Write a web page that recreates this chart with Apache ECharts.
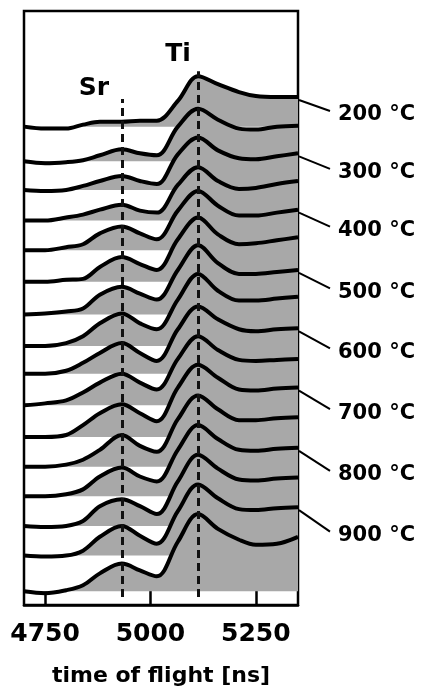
<!DOCTYPE html>
<html><head><meta charset="utf-8">
<script src="https://cdn.jsdelivr.net/npm/echarts@6/dist/echarts.min.js"></script>
<style>html,body{margin:0;padding:0;background:#fff}#c{width:423px;height:692px}</style>
</head><body><div id="c"></div>
<script>
// time-of-flight sample points [ns]
const times = [4700, 4750, 4800, 4840, 4880, 4932, 4975, 5015, 5065, 5113, 5160, 5210, 5250, 5300, 5350];
// vertical offset of each stacked spectrum (arbitrary units)
const traceOffsets = [484, 449, 420, 389, 359, 327, 294, 262, 234, 202, 170, 140, 110, 80, 50, 14];
// intensities (arbitrary units, relative to each trace's offset)
const trace01 = [0, -2, -2, 2, 5, 5, 6, 6, 26, 51, 43, 35, 31, 30, 30];
const trace02 = [0, -2, -1, 1, 6, 12, 8, 6, 35, 53, 42, 33, 32, 35, 36];
const trace03 = [0, -1, 0, 4, 9, 14, 9, 6, 36, 53, 40, 32, 31, 34, 37];
const trace04 = [0, 0, 3, 6, 11, 16, 10, 8, 36, 54, 40, 32, 33, 37, 40];
const trace05 = [0, 0, 3, 6, 17, 24, 17, 11, 40, 60, 45, 35, 35, 38, 41];
const trace06 = [0, 0, 2, 3, 15, 25, 18, 12, 43, 65, 48, 38, 39, 42, 45];
const trace07 = [0, 1, 3, 6, 20, 28, 21, 15, 45, 70, 52, 41, 41, 43, 45];
const trace08 = [0, 0, 3, 10, 23, 33, 23, 17, 47, 73, 56, 46, 46, 48, 50];
const trace09 = [0, 0, 3, 11, 21, 31, 21, 13, 45, 68, 55, 45, 43, 45, 46];
const trace10 = [0, 2, 5, 13, 23, 32, 23, 16, 47, 70, 56, 46, 45, 46, 47];
const trace11 = [0, 0, 2, 12, 24, 33, 24, 16, 50, 73, 60, 48, 47, 49, 50];
const trace12 = [0, 0, 2, 7, 17, 32, 21, 15, 48, 72, 58, 47, 47, 49, 50];
const trace13 = [0, 0, 2, 7, 20, 29, 20, 15, 47, 72, 58, 47, 46, 48, 49];
const trace14 = [0, -1, 0, 5, 20, 27, 20, 12, 45, 72, 58, 47, 46, 48, 49];
const trace15 = [0, -1, 0, 5, 19, 30, 20, 12, 45, 72, 58, 47, 46, 48, 49];
const trace16 = [0, -2, 1, 6, 18, 28, 21, 15, 50, 78, 63, 52, 47, 48, 55];
const traces = [trace01, trace02, trace03, trace04, trace05, trace06, trace07, trace08,
                trace09, trace10, trace11, trace12, trace13, trace14, trace15, trace16];
const tickValues = [4750, 5000, 5250];
const peakNames = ['Sr', 'Ti'];
const peakTimes = [4932, 5113];
const tempLabels = ['200 °C', '300 °C', '400 °C', '500 °C', '600 °C', '700 °C', '800 °C', '900 °C'];
const labeledTraces = [0, 2, 4, 6, 8, 10, 12, 14];
const xTitle = 'time of flight [ns]';

const FONT = '"DejaVu Sans", "Liberation Sans", Arial, sans-serif';
const GRAY = '#a8a8a8';
const peakLineTop = [512, 540];
const peakLineBottom = 8;

const chart = echarts.init(document.getElementById('c'), null, {renderer: 'canvas'});

const series = traces.map((vals, k) => ({
  type: 'line',
  name: 'trace' + (k + 1),
  data: times.map((t, i) => [t, traceOffsets[k] + vals[i]]),
  smooth: 0.35,
  symbol: 'none',
  silent: true,
  lineStyle: {color: '#000', width: 4},
  areaStyle: {color: GRAY, opacity: 1, origin: traceOffsets[k]},
  z: 2
}));

series.push({
  type: 'line',
  data: [],
  silent: true,
  markLine: {
    silent: true,
    symbol: 'none',
    label: {show: false},
    lineStyle: {color: '#111', width: 3, type: [8, 5]},
    data: peakTimes.map((t, i) => [{coord: [t, peakLineBottom]}, {coord: [t, peakLineTop[i]]}])
  },
  z: 5
});

chart.setOption({
  animation: false,
  backgroundColor: '#fff',
  grid: {left: 24, right: 125, top: 11, bottom: 80, show: true, borderColor: '#000', borderWidth: 2.5, backgroundColor: 'transparent'},
  xAxis: {
    type: 'value', min: 4700, max: 5350,
    axisLine: {show: true, lineStyle: {color: '#000', width: 2.5}},
    axisTick: {show: true, inside: true, length: 14, customValues: tickValues, lineStyle: {color: '#000', width: 2.5}},
    axisLabel: {customValues: tickValues, formatter: v => String(v), color: '#000', fontSize: 25, fontWeight: 'bold', fontFamily: FONT, margin: 17},
    splitLine: {show: false},
    name: xTitle, nameLocation: 'middle', nameGap: 60,
    nameTextStyle: {color: '#000', fontSize: 22, fontWeight: 'bold', fontFamily: FONT}
  },
  yAxis: {type: 'value', min: 0, max: 601, show: false, splitLine: {show: false}},
  series: series
});

// annotations positioned via the chart's own scales
const gfx = [];
labeledTraces.forEach((k, j) => {
  const vals = traces[k];
  const last = times.length - 1;
  const p = chart.convertToPixel({gridIndex: 0}, [times[last], traceOffsets[k] + vals[last]]);
  const dy = 18 + 1.5 * j;
  gfx.push({type: 'line', silent: true, shape: {x1: p[0] + 1, y1: p[1] + 3, x2: p[0] + 32, y2: p[1] + dy - 4},
    style: {stroke: '#000', lineWidth: 2}});
  gfx.push({type: 'text', silent: true, x: p[0] + 40, y: p[1] + dy,
    style: {text: tempLabels[j], fill: '#000', fontSize: 21, fontWeight: 'bold', fontFamily: FONT, verticalAlign: 'middle', align: 'left'}});
});
const labelShift = [[-28, -10], [-20, -17]];
peakNames.forEach((n, i) => {
  const p = chart.convertToPixel({gridIndex: 0}, [peakTimes[i], peakLineTop[i]]);
  gfx.push({type: 'text', silent: true, x: p[0] + labelShift[i][0], y: p[1] + labelShift[i][1],
    style: {text: n, fill: '#000', fontSize: 25, fontWeight: 'bold', fontFamily: FONT, align: 'center', verticalAlign: 'middle'}});
});
chart.setOption({graphic: gfx});
</script>
</body></html>
